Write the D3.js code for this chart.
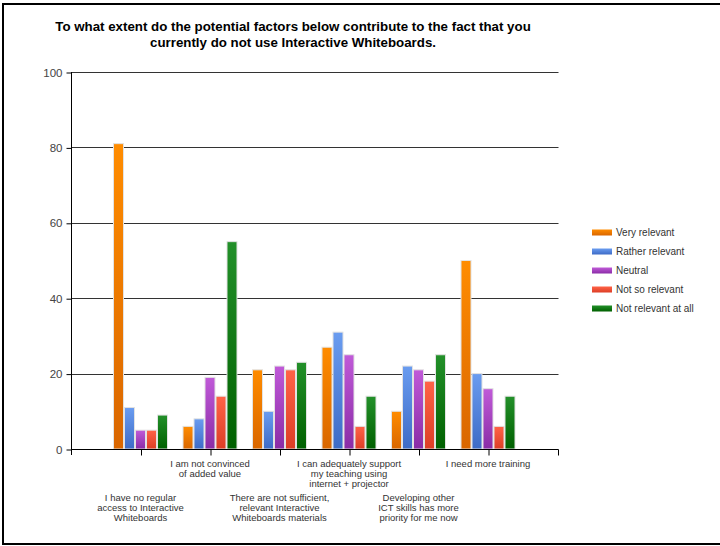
<!DOCTYPE html>
<html><head><meta charset="utf-8">
<script src="https://cdn.jsdelivr.net/npm/d3@7"></script>
<style>
html,body{margin:0;padding:0;background:#fff;}
svg{display:block;font-family:"Liberation Sans",Arial,sans-serif;}
</style></head>
<body>
<svg id="chart" width="720" height="546"></svg>
<script>
const titleLines = ["To what extent do the potential factors below contribute to the fact that you",
                    "currently do not use Interactive Whiteboards."];
const categories = [
  ["I have no regular","access to Interactive","Whiteboards"],
  ["I am not convinced","of added value"],
  ["There are not sufficient,","relevant Interactive","Whiteboards materials"],
  ["I can adequately support","my teaching using","internet + projector"],
  ["Developing other","ICT skills has more","priority for me now"],
  ["I need more training"]
];
const seriesNames = ["Very relevant","Rather relevant","Neutral","Not so relevant","Not relevant at all"];
const veryRelevant    = [81, 6, 21, 27, 10, 50];
const ratherRelevant  = [11, 8, 10, 31, 22, 20];
const neutral         = [5, 19, 22, 25, 21, 16];
const notSoRelevant   = [5, 14, 21, 6, 18, 6];
const notRelevantAtAll= [9, 55, 23, 14, 25, 14];
const seriesValues = [veryRelevant, ratherRelevant, neutral, notSoRelevant, notRelevantAtAll];
const yTicks = [0, 20, 40, 60, 80, 100];

const colorsTop = ["#ff8c00","#6a9cf0","#c05ad8","#ff6347","#23902a"];
const colorsBot = ["#d96600","#3d6bc6","#8a2ca6","#dc3e26","#006000"];

const svg = d3.select("#chart");
const defs = svg.append("defs");
colorsTop.forEach((c,i)=>{
  const g = defs.append("linearGradient").attr("id","g"+i).attr("x1",0).attr("y1",0).attr("x2",0).attr("y2",1);
  g.append("stop").attr("offset","0%").attr("stop-color",c);
  g.append("stop").attr("offset","100%").attr("stop-color",colorsBot[i]);
});

// frame
svg.append("rect").attr("x",3).attr("y",4).attr("width",740).attr("height",540)
  .attr("fill","none").attr("stroke","#000").attr("stroke-width",2);

// title
svg.append("g").selectAll("text").data(titleLines).join("text")
  .attr("x",293).attr("y",(d,i)=>31+i*16).attr("text-anchor","middle")
  .attr("font-size","13.3px").attr("font-weight","bold").attr("fill","#000").text(d=>d);

const x0 = 71, x1 = 557.5, yTop = 72, yBot = 449;
const x = d3.scaleLinear().domain([0, categories.length + 1]).range([x0, x1]);
const y = d3.scaleLinear().domain([0, 100]).range([yBot, yTop]);
const inner = d3.scaleBand().domain(seriesNames).range([-27.5, 27.5]).padding(0);

// grid lines
svg.append("g").selectAll("line").data(yTicks.filter(t=>t>0)).join("line")
  .attr("x1",x0).attr("x2",x1+1).attr("y1",d=>Math.round(y(d))+0.5).attr("y2",d=>Math.round(y(d))+0.5)
  .attr("stroke","#333").attr("stroke-width",1);

// y axis
const yAxis = d3.axisLeft(y).tickValues(yTicks).tickSize(5).tickPadding(4).tickSizeOuter(0);
const gy = svg.append("g").attr("transform",`translate(${x0+0.5},0.5)`).call(yAxis);
gy.select(".domain").remove();
gy.selectAll(".tick line").attr("stroke","#000");
gy.selectAll(".tick text").attr("font-size","11.5px").attr("fill","#444").attr("font-family","'Liberation Sans',Arial,sans-serif");
svg.append("line").attr("x1",x0+0.5).attr("x2",x0+0.5).attr("y1",yTop).attr("y2",yBot+6).attr("stroke","#000");

// bars
const groups = svg.append("g").selectAll("g").data(categories.map((c,i)=>i)).join("g")
  .attr("transform",i=>`translate(${x(i+1)},0)`);
groups.selectAll("rect").data(i=>seriesNames.map((s,k)=>({k, v: seriesValues[k][i]}))).join("rect")
  .attr("x",d=>inner(seriesNames[d.k])+0.5)
  .attr("width",inner.bandwidth()-1)
  .attr("y",d=>y(d.v))
  .attr("height",d=>yBot - y(d.v))
  .attr("fill",d=>`url(#g${d.k})`)
  .attr("stroke","#e2e2e2").attr("stroke-width",1);

// x axis
const xTickVals = d3.range(1, categories.length + 2);
const xAxis = d3.axisBottom(x).tickValues(xTickVals).tickSize(6).tickFormat("").tickSizeOuter(0);
const gx = svg.append("g").attr("transform",`translate(0.5,${yBot+0.5})`).call(xAxis);
gx.select(".domain").remove();
gx.selectAll(".tick line").attr("stroke","#000");
svg.append("line").attr("x1",x0).attr("x2",x1+1).attr("y1",yBot+0.5).attr("y2",yBot+0.5).attr("stroke","#000");

// category labels (alternating rows)
const lab = svg.append("g").selectAll("text").data(categories).join("text")
  .attr("text-anchor","middle").attr("font-size","9.5px").attr("fill","#333")
  .attr("transform",(d,i)=>`translate(${x(i+1)},${i%2===0 ? 501 : 466.5})`);
lab.selectAll("tspan").data(d=>d).join("tspan")
  .attr("x",0).attr("dy",(d,j)=>j===0?0:10).text(d=>d);

// legend
const leg = svg.append("g").selectAll("g").data(seriesNames).join("g")
  .attr("transform",(d,i)=>`translate(592,${232.5 + i*19})`);
leg.append("rect").attr("x",0).attr("y",-3).attr("width",20).attr("height",6)
  .attr("fill",(d,i)=>`url(#g${i})`);
leg.append("text").attr("x",24).attr("y",3.5).attr("font-size","10px").attr("fill","#333").text(d=>d);
</script>
</body></html>
